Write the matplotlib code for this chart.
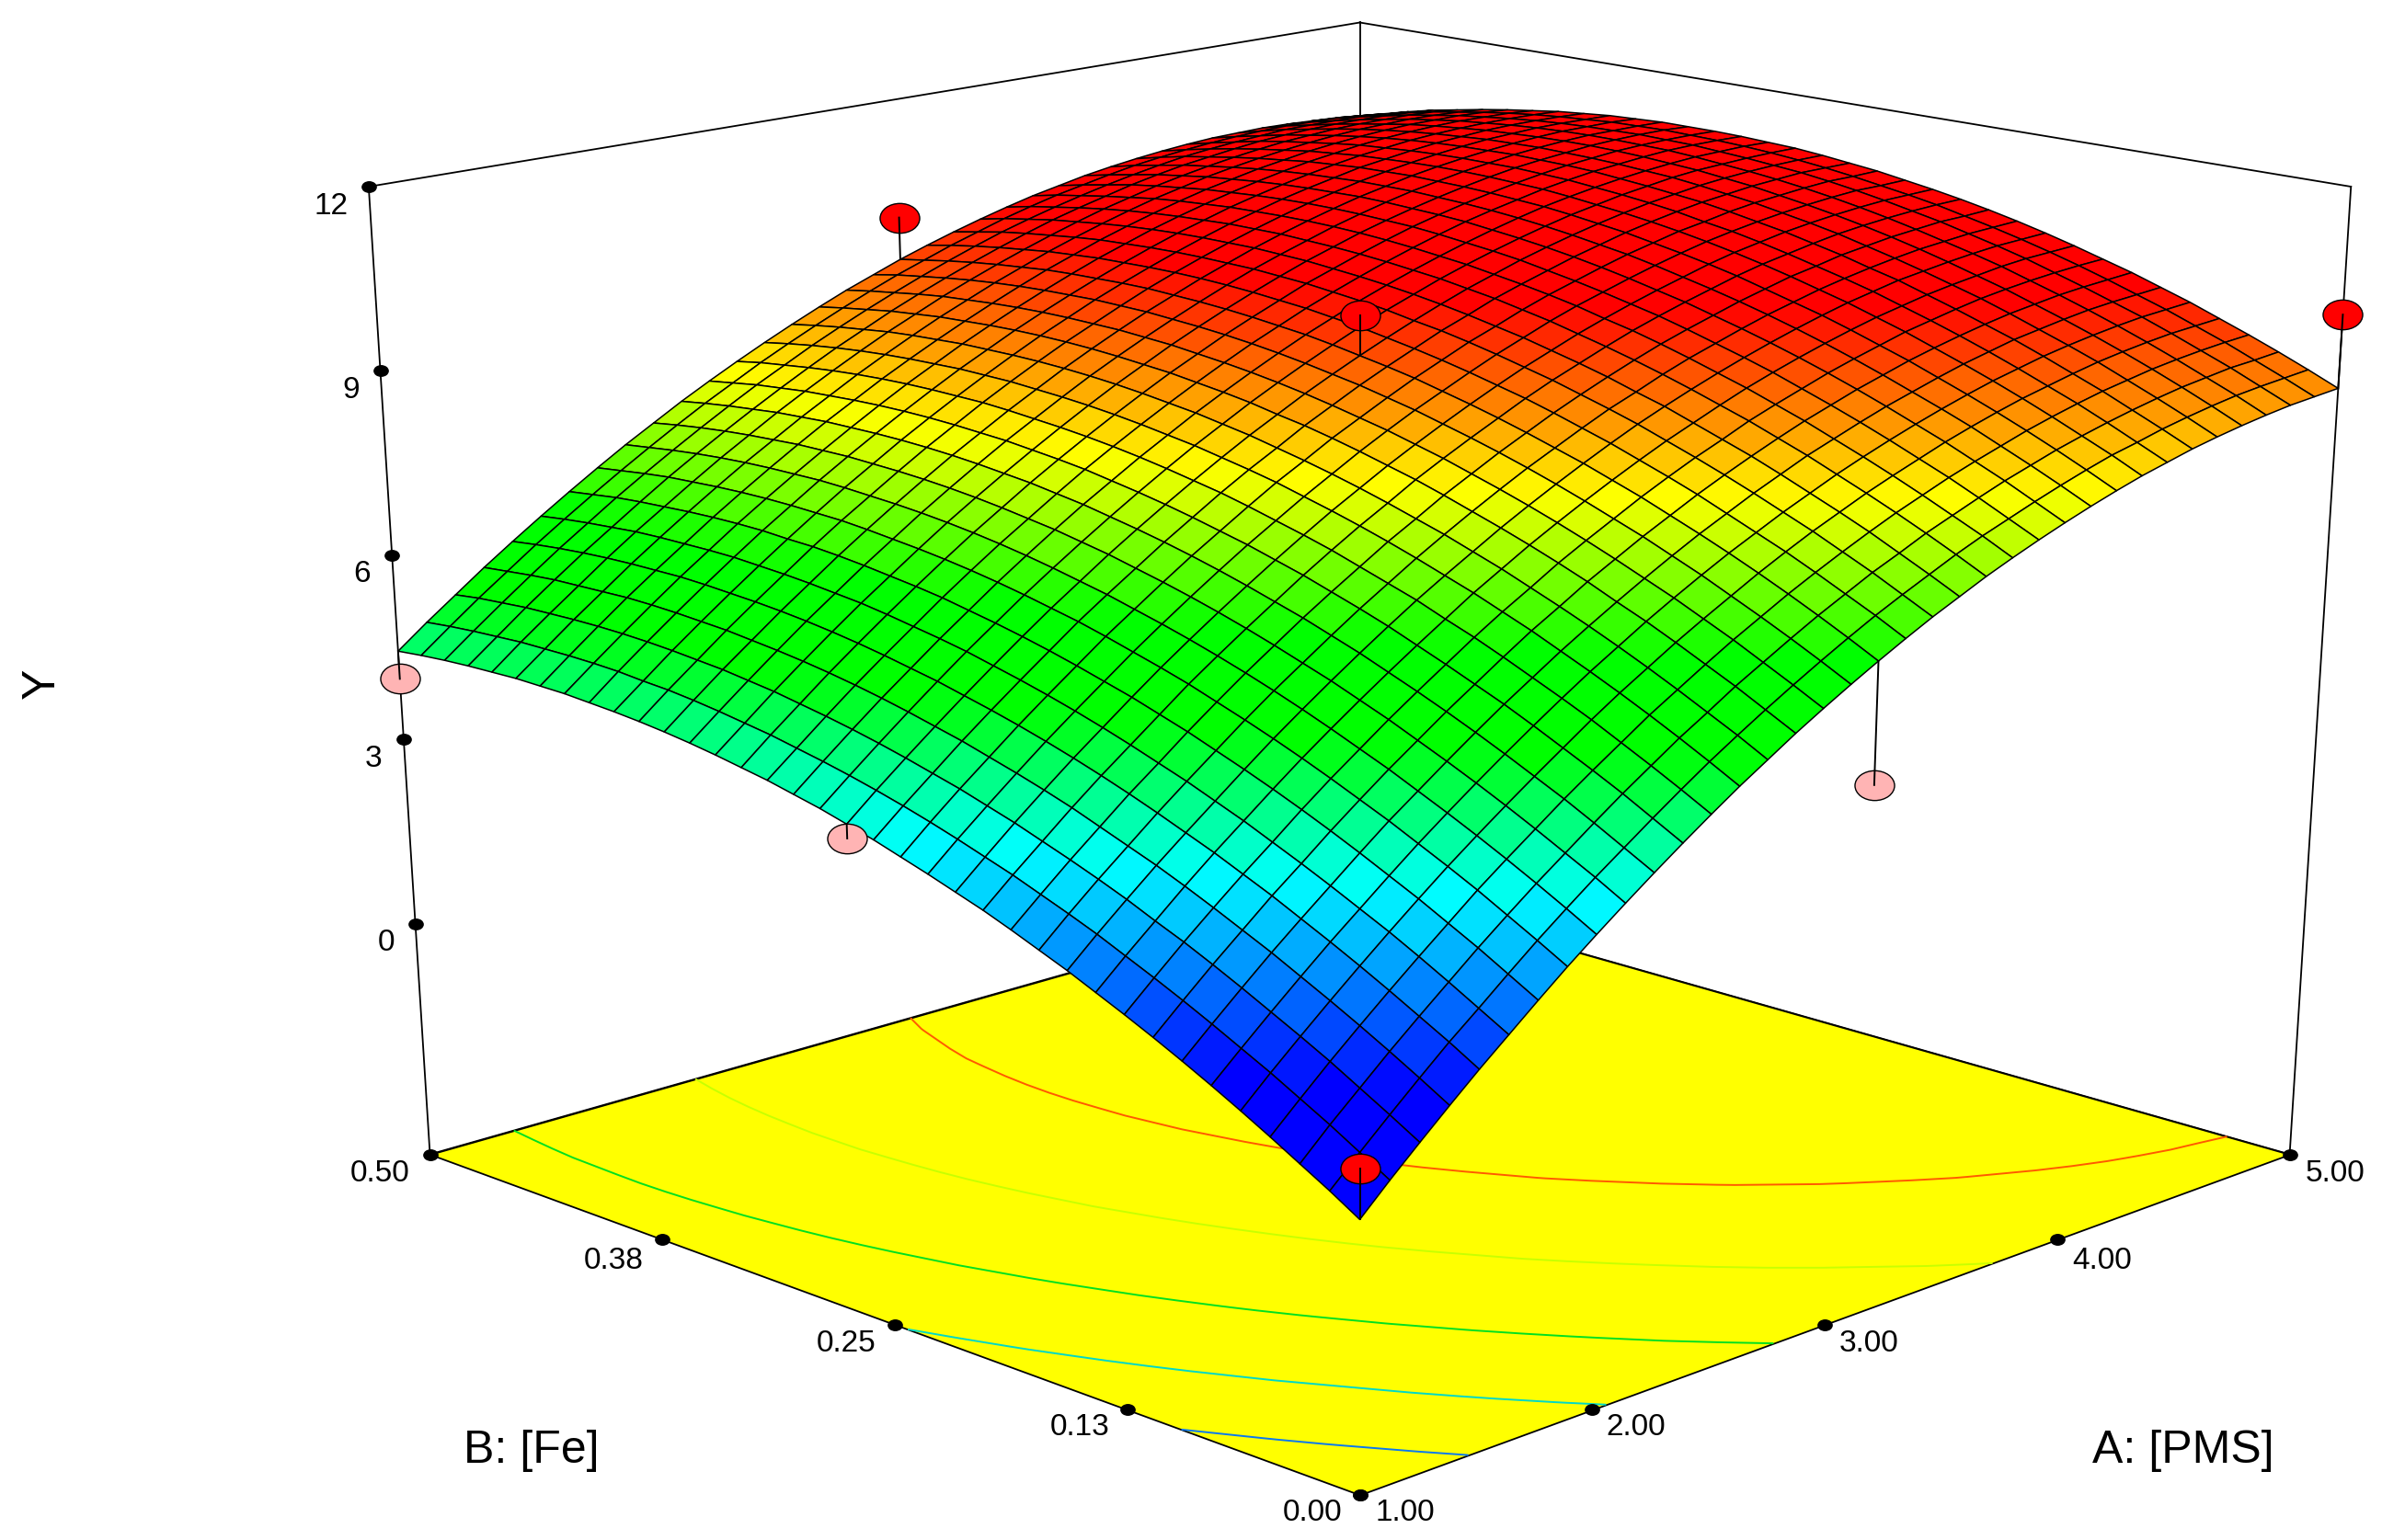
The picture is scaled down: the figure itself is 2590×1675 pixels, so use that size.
import numpy as np
import matplotlib
matplotlib.use('Agg')
import matplotlib.pyplot as plt
from matplotlib.colors import LinearSegmentedColormap, Normalize
from matplotlib.lines import Line2D
from matplotlib.path import Path
from matplotlib.transforms import Affine2D
from mpl_toolkits.mplot3d import proj3d
from mpl_toolkits.mplot3d.art3d import Poly3DCollection

plt.rcParams['font.family'] = ['Liberation Sans', 'DejaVu Sans']

W, H = 2590, 1675
FLOOR = -3.75

a_ticks = [1.00, 2.00, 3.00, 4.00, 5.00]
b_ticks = [0.000, 0.125, 0.250, 0.375, 0.500]
b_labels = ['0.00', '0.13', '0.25', '0.38', '0.50']
z_ticks = [0, 3, 6, 9, 12]

# mesh lines of the surface
a_grid = np.linspace(1, 5, 37)
b_grid = np.linspace(0, 0.5, 37)

# Y, one row per B line (B=0 first), A=1 to 5 along the row
y_table = np.array([
    [.44,.88,1.30,1.71,2.11,2.49,2.87,3.24,3.59,3.93,4.26,4.58,4.89,5.19,5.47,5.75,6.01,6.26,6.50,6.73,6.95,7.15,7.35,7.53,7.70,7.86,8.01,8.15,8.28,8.39,8.50,8.59,8.67,8.74,8.80,8.84,8.88],
    [.72,1.15,1.57,1.98,2.38,2.75,3.13,3.50,3.85,4.19,4.51,4.83,5.14,5.44,5.72,5.99,6.25,6.50,6.74,6.97,7.18,7.38,7.58,7.76,7.92,8.08,8.23,8.37,8.50,8.60,8.71,8.80,8.88,8.95,9.00,9.04,9.08],
    [.98,1.42,1.83,2.24,2.63,3.01,3.39,3.75,4.10,4.43,4.76,5.08,5.38,5.68,5.95,6.23,6.48,6.73,6.97,7.19,7.41,7.60,7.80,7.97,8.14,8.30,8.44,8.58,8.70,8.81,8.91,9.00,9.08,9.14,9.20,9.23,9.27],
    [1.24,1.67,2.09,2.49,2.88,3.26,3.63,4.00,4.34,4.67,5.00,5.31,5.61,5.91,6.18,6.45,6.71,6.95,7.19,7.41,7.62,7.82,8.01,8.18,8.35,8.50,8.64,8.78,8.90,9.01,9.11,9.19,9.27,9.33,9.38,9.42,9.45],
    [1.49,1.92,2.33,2.73,3.12,3.50,3.87,4.23,4.57,4.90,5.22,5.53,5.84,6.13,6.40,6.67,6.92,7.16,7.40,7.62,7.83,8.02,8.21,8.38,8.54,8.70,8.84,8.97,9.09,9.19,9.29,9.38,9.45,9.51,9.56,9.59,9.62],
    [1.73,2.15,2.56,2.96,3.35,3.72,4.09,4.45,4.79,5.12,5.44,5.75,6.05,6.34,6.61,6.88,7.13,7.37,7.60,7.81,8.02,8.21,8.40,8.57,8.73,8.88,9.02,9.15,9.27,9.37,9.47,9.55,9.62,9.68,9.73,9.76,9.79],
    [1.96,2.38,2.79,3.19,3.57,3.94,4.31,4.67,5.00,5.33,5.65,5.96,6.25,6.54,6.81,7.07,7.32,7.56,7.79,8.00,8.21,8.40,8.59,8.75,8.91,9.06,9.19,9.32,9.44,9.54,9.64,9.71,9.78,9.84,9.88,9.91,9.94],
    [2.18,2.60,3.01,3.40,3.79,4.15,4.52,4.87,5.21,5.53,5.85,6.15,6.45,6.74,7.00,7.27,7.51,7.75,7.97,8.19,8.39,8.58,8.76,8.93,9.08,9.23,9.36,9.49,9.60,9.70,9.79,9.87,9.93,9.99,10.03,10.06,10.09],
    [2.39,2.81,3.22,3.61,3.99,4.35,4.72,5.07,5.40,5.73,6.04,6.34,6.64,6.92,7.18,7.45,7.69,7.92,8.15,8.36,8.56,8.74,8.93,9.09,9.24,9.39,9.52,9.64,9.76,9.85,9.94,10.02,10.08,10.13,10.17,10.20,10.22],
    [2.59,3.01,3.41,3.81,4.19,4.55,4.91,5.26,5.59,5.91,6.22,6.52,6.81,7.10,7.36,7.62,7.86,8.09,8.31,8.52,8.72,8.90,9.08,9.25,9.40,9.54,9.67,9.79,9.90,9.99,10.08,10.15,10.21,10.27,10.31,10.33,10.35],
    [2.79,3.21,3.61,4.00,4.37,4.73,5.09,5.44,5.77,6.09,6.40,6.70,6.99,7.26,7.52,7.78,8.02,8.25,8.47,8.68,8.88,9.06,9.23,9.39,9.54,9.68,9.81,9.93,10.04,10.13,10.22,10.28,10.34,10.39,10.43,10.45,10.47],
    [2.97,3.39,3.79,4.17,4.55,4.91,5.26,5.61,5.94,6.25,6.56,6.86,7.14,7.42,7.68,7.93,8.17,8.40,8.61,8.82,9.02,9.19,9.37,9.53,9.67,9.81,9.94,10.05,10.16,10.25,10.33,10.40,10.46,10.50,10.54,10.56,10.58],
    [3.15,3.56,3.96,4.34,4.72,5.07,5.43,5.77,6.10,6.41,6.72,7.01,7.29,7.57,7.82,8.08,8.31,8.54,8.75,8.96,9.15,9.33,9.50,9.66,9.80,9.93,10.06,10.17,10.28,10.36,10.45,10.51,10.57,10.61,10.65,10.66,10.68],
    [3.32,3.73,4.12,4.51,4.88,5.23,5.58,5.93,6.25,6.56,6.86,7.16,7.44,7.71,7.96,8.22,8.45,8.67,8.88,9.09,9.28,9.45,9.62,9.78,9.92,10.05,10.17,10.29,10.39,10.47,10.55,10.62,10.67,10.71,10.74,10.76,10.77],
    [3.47,3.88,4.28,4.66,5.03,5.38,5.73,6.07,6.39,6.70,7.00,7.29,7.57,7.84,8.09,8.34,8.57,8.79,9.00,9.20,9.39,9.56,9.73,9.88,10.02,10.15,10.27,10.39,10.49,10.57,10.65,10.71,10.76,10.80,10.83,10.84,10.85],
    [3.62,4.03,4.42,4.80,5.17,5.52,5.86,6.20,6.52,6.83,7.13,7.42,7.69,7.96,8.21,8.46,8.69,8.91,9.11,9.31,9.50,9.67,9.84,9.99,10.12,10.25,10.37,10.48,10.58,10.66,10.73,10.79,10.84,10.88,10.91,10.91,10.92],
    [3.76,4.17,4.56,4.93,5.30,5.65,5.99,6.33,6.64,6.95,7.25,7.53,7.81,8.08,8.32,8.57,8.79,9.01,9.22,9.41,9.60,9.76,9.93,10.08,10.21,10.34,10.46,10.56,10.66,10.73,10.81,10.87,10.91,10.95,10.98,10.98,10.99],
    [3.90,4.30,4.68,5.06,5.42,5.77,6.11,6.45,6.76,7.06,7.36,7.64,7.92,8.18,8.42,8.67,8.89,9.11,9.31,9.50,9.69,9.85,10.02,10.16,10.29,10.42,10.53,10.64,10.73,10.81,10.88,10.93,10.98,11.01,11.04,11.04,11.04],
    [4.02,4.42,4.80,5.17,5.53,5.88,6.22,6.55,6.86,7.17,7.46,7.74,8.01,8.27,8.52,8.75,8.98,9.19,9.39,9.58,9.76,9.93,10.09,10.23,10.37,10.49,10.60,10.70,10.79,10.87,10.93,10.99,11.03,11.06,11.08,11.09,11.09],
    [4.14,4.53,4.91,5.28,5.64,5.99,6.32,6.65,6.96,7.26,7.55,7.83,8.10,8.36,8.60,8.84,9.06,9.27,9.47,9.66,9.84,10.00,10.16,10.30,10.43,10.55,10.66,10.76,10.84,10.92,10.98,11.04,11.08,11.10,11.12,11.13,11.13],
    [4.24,4.63,5.01,5.38,5.73,6.08,6.41,6.74,7.05,7.35,7.64,7.91,8.18,8.43,8.68,8.91,9.13,9.34,9.54,9.72,9.90,10.06,10.21,10.35,10.48,10.60,10.71,10.81,10.89,10.96,11.02,11.07,11.11,11.14,11.15,11.16,11.15],
    [4.34,4.72,5.10,5.47,5.82,6.16,6.50,6.82,7.13,7.42,7.71,7.99,8.25,8.50,8.74,8.97,9.19,9.40,9.59,9.78,9.95,10.11,10.26,10.40,10.53,10.65,10.75,10.84,10.93,11.00,11.06,11.10,11.14,11.17,11.18,11.18,11.17],
    [4.42,4.81,5.18,5.55,5.90,6.24,6.57,6.89,7.20,7.49,7.78,8.05,8.31,8.56,8.80,9.03,9.24,9.45,9.64,9.82,10.00,10.15,10.30,10.44,10.57,10.68,10.78,10.87,10.95,11.02,11.08,11.12,11.16,11.18,11.19,11.19,11.18],
    [4.50,4.88,5.26,5.62,5.97,6.31,6.63,6.95,7.26,7.55,7.83,8.10,8.36,8.61,8.85,9.07,9.29,9.49,9.68,9.86,10.03,10.19,10.33,10.47,10.59,10.70,10.80,10.89,10.97,11.04,11.09,11.13,11.17,11.19,11.20,11.20,11.18],
    [4.57,4.95,5.32,5.68,6.03,6.36,6.69,7.00,7.31,7.60,7.88,8.15,8.40,8.65,8.89,9.11,9.32,9.52,9.71,9.89,10.06,10.21,10.35,10.49,10.61,10.72,10.82,10.90,10.98,11.04,11.10,11.14,11.17,11.19,11.19,11.19,11.18],
    [4.63,5.01,5.38,5.73,6.08,6.41,6.74,7.05,7.35,7.64,7.92,8.18,8.44,8.68,8.92,9.14,9.35,9.55,9.73,9.91,10.07,10.23,10.37,10.50,10.62,10.73,10.82,10.91,10.98,11.04,11.09,11.13,11.16,11.18,11.18,11.18,11.16],
    [4.68,5.06,5.42,5.78,6.12,6.45,6.78,7.09,7.38,7.67,7.95,8.21,8.47,8.71,8.94,9.16,9.36,9.56,9.75,9.92,10.08,10.23,10.37,10.50,10.62,10.72,10.82,10.90,10.97,11.03,11.08,11.12,11.14,11.16,11.16,11.15,11.14],
    [4.72,5.09,5.46,5.81,6.15,6.48,6.80,7.11,7.41,7.69,7.97,8.23,8.48,8.72,8.95,9.17,9.37,9.57,9.75,9.92,10.08,10.23,10.37,10.49,10.61,10.71,10.80,10.89,10.95,11.01,11.06,11.09,11.12,11.13,11.13,11.12,11.10],
    [4.75,5.13,5.49,5.84,6.18,6.51,6.83,7.13,7.43,7.71,7.98,8.24,8.49,8.73,8.95,9.17,9.37,9.56,9.74,9.91,10.07,10.22,10.35,10.48,10.59,10.69,10.78,10.86,10.93,10.98,11.03,11.06,11.08,11.09,11.09,11.08,11.06],
    [4.78,5.15,5.51,5.86,6.20,6.52,6.84,7.14,7.43,7.71,7.98,8.24,8.49,8.72,8.95,9.16,9.36,9.55,9.73,9.90,10.05,10.20,10.33,10.45,10.56,10.66,10.75,10.83,10.89,10.95,10.99,11.02,11.04,11.05,11.04,11.03,11.00],
    [4.79,5.16,5.52,5.87,6.20,6.52,6.84,7.14,7.43,7.71,7.98,8.23,8.48,8.71,8.93,9.14,9.34,9.53,9.71,9.87,10.03,10.17,10.30,10.42,10.53,10.62,10.71,10.78,10.85,10.90,10.94,10.97,10.99,10.99,10.99,10.97,10.94],
    [4.80,5.16,5.52,5.86,6.20,6.52,6.83,7.13,7.42,7.69,7.96,8.21,8.46,8.69,8.91,9.12,9.31,9.50,9.67,9.84,9.99,10.13,10.26,10.38,10.48,10.58,10.66,10.73,10.79,10.84,10.88,10.91,10.92,10.93,10.92,10.90,10.87],
    [4.79,5.16,5.51,5.85,6.19,6.51,6.81,7.11,7.40,7.67,7.94,8.19,8.43,8.66,8.88,9.08,9.28,9.46,9.63,9.79,9.94,10.08,10.21,10.32,10.43,10.52,10.60,10.67,10.73,10.78,10.81,10.84,10.85,10.85,10.85,10.83,10.79],
    [4.78,5.14,5.50,5.84,6.17,6.48,6.79,7.09,7.37,7.64,7.90,8.15,8.39,8.62,8.83,9.04,9.23,9.41,9.58,9.74,9.89,10.03,10.15,10.26,10.37,10.46,10.54,10.60,10.66,10.71,10.74,10.76,10.77,10.77,10.76,10.74,10.71],
    [4.76,5.12,5.47,5.81,6.14,6.45,6.76,7.05,7.33,7.60,7.86,8.11,8.34,8.57,8.78,8.98,9.17,9.35,9.52,9.68,9.83,9.96,10.08,10.19,10.29,10.38,10.46,10.53,10.58,10.62,10.65,10.68,10.68,10.68,10.67,10.64,10.61],
    [4.73,5.09,5.44,5.77,6.10,6.41,6.71,7.00,7.28,7.55,7.81,8.05,8.29,8.51,8.72,8.92,9.11,9.29,9.45,9.61,9.75,9.89,10.01,10.12,10.21,10.30,10.38,10.44,10.49,10.53,10.56,10.58,10.59,10.58,10.57,10.54,10.50],
    [4.69,5.05,5.39,5.73,6.05,6.36,6.66,6.95,7.23,7.49,7.75,7.99,8.22,8.44,8.65,8.85,9.04,9.21,9.38,9.53,9.67,9.80,9.92,10.03,10.12,10.21,10.28,10.34,10.39,10.43,10.46,10.47,10.48,10.47,10.45,10.43,10.39],
])

# design points, the last one sits behind the surface
pt_a = [1, 1, 5, 3, 3, 3, 1, 5]
pt_b = [0, 0.5, 0, 0.25, 0.5, 0, 0.25, 0.5]
pt_y = [1.2, 4.24, 10.03, 10.02, 10.07, 4.62, 3.8, 10.05]

contour_levels = [2.0, 3.8, 5.7, 7.6, 9.3]
contour_colors = ['#0a78f0', '#00d8c8', '#00e020', '#c8ff00', '#ff5a00']
color_stops = [1.8, 3.95, 5.5, 6.5, 8.15, 10.0]
color_names = ['#0000ff', '#00ffff', '#00ff00', '#00ff00', '#ffff00', '#ff0000']

fig = plt.figure(figsize=(W/100, H/100), dpi=100)
ax = fig.add_axes([0, 0, 1, 1], projection='3d')
ax.apply_aspect = lambda position=None: None
ax.computed_zorder = False
ax.set_axis_off()
ax.set_xlim(1, 5)
ax.set_ylim(0, 0.5)
ax.set_zlim(FLOOR, 12)
ax.view_init(elev=19.4, azim=-135)
ax.set_box_aspect((1, 1, 0.98), zoom=1.77)

# line the view up with the picture
M = ax.get_proj()
def view(x, y, z):
    vx, vy, _ = proj3d.proj_transform(x, y, z, M)
    return np.array([vx, vy])
vl, vf = view(1, 0.5, FLOOR)
vr, _ = view(5, 0, FLOOR)
_, vt = view(1, 0.5, 12)
sx = (2489.6 - 467.5) / (vr - vl)
sy = (1255.5 - 203.0) / (vt - vf)
x0 = vl - 467.5 / sx
ax.viewLim.intervalx = (x0, x0 + W / sx)
y1 = vt + 203.0 / sy
ax.viewLim.intervaly = (y1 - H / sy, y1)

A, B = np.meshgrid(a_grid, b_grid)
lo, hi = color_stops[0], color_stops[-1]
cmap = LinearSegmentedColormap.from_list('de', [((s - lo) / (hi - lo), c) for s, c in zip(color_stops, color_names)])
norm = Normalize(lo, hi)

# back box lines
k = dict(color='k', lw=1.3)
ax.plot([1, 5], [0.5, 0.5], [FLOOR, FLOOR], zorder=1, **k)
ax.plot([5, 5], [0, 0.5], [FLOOR, FLOOR], zorder=1, **k)
ax.plot([5, 5], [0.5, 0.5], [FLOOR, 12], zorder=1, **k)
ax.plot([1, 5], [0.5, 0.5], [12, 12], zorder=1, **k)
ax.plot([5, 5], [0, 0.5], [12, 12], zorder=1, **k)
ax.plot([1, 1], [0.5, 0.5], [FLOOR, 12], zorder=1, **k)
ax.plot([5, 5], [0, 0], [FLOOR, 12], zorder=1, **k)

# floor
floor = Poly3DCollection([[(1, 0, FLOOR), (5, 0, FLOOR), (5, 0.5, FLOOR), (1, 0.5, FLOOR)]],
                         facecolor='#ffff00', edgecolor='k', linewidth=1.3, zorder=2)
ax.add_collection3d(floor)
ax.contour(A, B, y_table, levels=contour_levels, colors=contour_colors, zdir='z', offset=FLOOR,
           linewidths=1.4, zorder=3)

ell = Affine2D().scale(1.33, 1).transform_path(Path.unit_circle())

def draw_point(x, y, z, zo):
    i = np.argmin(np.abs(a_grid - x))
    j = np.argmin(np.abs(b_grid - y))
    col = '#ff0000' if z > y_table[j, i] else '#ffb4b4'
    ax.plot([x], [y], [z], marker=ell, ms=31, mfc=col, mec='k', mew=1.0, ls='none', zorder=zo)
    ax.plot([x, x], [y, y], [z, y_table[j, i]], color='k', lw=1.4, zorder=zo + 0.1)

draw_point(pt_a[-1], pt_b[-1], pt_y[-1], 4)

fc = cmap(norm((y_table[:-1, :-1] + y_table[1:, :-1] + y_table[:-1, 1:] + y_table[1:, 1:]) / 4))
ax.plot_surface(A, B, y_table, facecolors=fc, rstride=1, cstride=1, edgecolor='k', linewidth=1.1,
                shade=False, zorder=5)

for i in range(len(pt_a) - 1):
    draw_point(pt_a[i], pt_b[i], pt_y[i], 6)

# tick dots sit evenly along the edges on screen
def dots(ticks, lo_val, hi_val, p0, p1):
    for t in ticks:
        f = (t - lo_val) / (hi_val - lo_val)
        vx, vy = p0 + f * (p1 - p0)
        fig.add_artist(Line2D([vx], [vy], transform=ax.transData, marker=ell, ms=11, color='k', ls='none'))

front = view(1, 0, FLOOR)
dots(a_ticks, 1, 5, front, view(5, 0, FLOOR))
dots(b_ticks, 0, 0.5, front, view(1, 0.5, FLOOR))
dots(z_ticks, FLOOR, 12, view(1, 0.5, FLOOR), view(1, 0.5, 12))

# labels, positions in pixels of the 1568 wide picture
def put(txt, x, y, size=24, **kw):
    fig.text(x / 1568, 1 - y / 1014, txt, fontsize=size, ha='center', va='center', **kw)

z_pos = [(254, 621), (246, 500), (238, 378), (231, 257), (218, 136)]
for t, p in zip(z_ticks, z_pos):
    put(str(t), *p)
a_pos = [(925, 996), (1077, 940), (1230, 885), (1384, 830), (1537, 773)]
for t, p in zip(a_ticks, a_pos):
    put('%.2f' % t, *p)
b_pos = [(864, 996), (711, 940), (557, 885), (404, 830), (250, 773)]
for t, p in zip(b_labels, b_pos):
    put(t, *p)
put('A: [PMS]', 1437, 955, size=36)
put('B: [Fe]', 350, 955, size=36)
put('Y', 28, 450, size=36, rotation=90)

fig.savefig('out.png', dpi=100)
